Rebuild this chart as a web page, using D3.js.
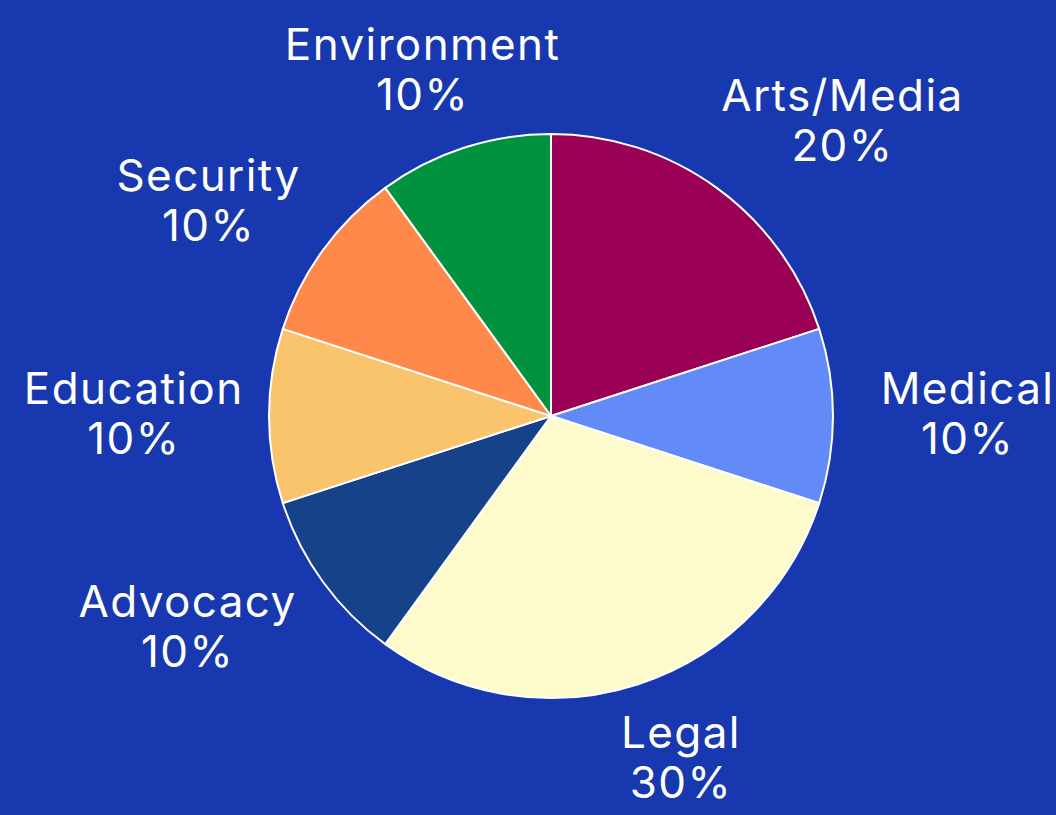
<!DOCTYPE html>
<html><head><meta charset="utf-8">
<script src="https://cdn.jsdelivr.net/npm/d3@7"></script>
<style>html,body{margin:0;padding:0;background:#1838b0;overflow:hidden}</style>
</head><body>
<svg id="c" width="1056" height="815"></svg>
<script>
const categories = ["Arts/Media","Medical","Legal","Advocacy","Education","Security","Environment"];
const values = [20,10,30,10,10,10,10];
const colors = ["#9b0057","#628bf7","#fdfbcb","#16428a","#f9c46c","#ff884b","#00923f"];

const W = 1056, H = 815, cx = 551, cy = 416, R = 282;
const fontSize = 44, lineGap = 50, cap = 0.727 * fontSize, spacing = 1.4;
const svg = d3.select("#c");
svg.append("rect").attr("width", W).attr("height", H).attr("fill", "#1838b0");

const data = categories.map((c, i) => ({cat: c, val: values[i], col: colors[i]}));
const total = d3.sum(values);
const pie = d3.pie().sort(null).value(d => d.val);
const arcs = pie(data);
const arc = d3.arc().innerRadius(0).outerRadius(R);
const g = svg.append("g").attr("transform", `translate(${cx},${cy})`);
g.selectAll("path").data(arcs).join("path")
  .attr("d", arc).attr("fill", d => d.data.col)
  .attr("stroke", "#fff").attr("stroke-width", 2).attr("stroke-linejoin", "round");

const fmt = d3.format(".0%");
const rx = 418, ry = 362, clear = 306;
arcs.forEach(a => {
  const m = (a.startAngle + a.endAngle) / 2;
  const s = Math.sin(m), c = Math.cos(m);
  let x = rx * s, y = -ry * c - 3;
  const t = g.append("text").attr("fill", "#fff")
    .attr("font-family", "Inter, 'Noto Sans', sans-serif")
    .attr("font-size", fontSize).attr("letter-spacing", spacing)
    .attr("text-anchor", "middle");
  const t1 = t.append("tspan").text(a.data.cat);
  const t2 = t.append("tspan").text(fmt(a.data.val / total));
  const w = Math.max(t1.node().getComputedTextLength(), t2.node().getComputedTextLength()) - spacing;
  const hb = (cap + lineGap) / 2;
  function nearest(x, y) {
    const nx = Math.max(x - w / 2, Math.min(0, x + w / 2));
    const ny = Math.max(y - hb, Math.min(0, y + hb));
    return Math.hypot(nx, ny);
  }
  if (Math.abs(s) >= 0.5) {
    let k = 0;
    while (nearest(x, y) < clear && k < 300) { x += Math.sign(s); k++; }
  }
  // keep the label inside the canvas
  const right = cx + x + w / 2;
  if (right > W - 3) x -= right - (W - 3);
  const b1 = y - hb + cap, b2 = y + hb;
  t1.attr("x", x + spacing / 2).attr("y", b1);
  t2.attr("x", x + spacing / 2).attr("y", b2);
});
</script>
</body></html>
